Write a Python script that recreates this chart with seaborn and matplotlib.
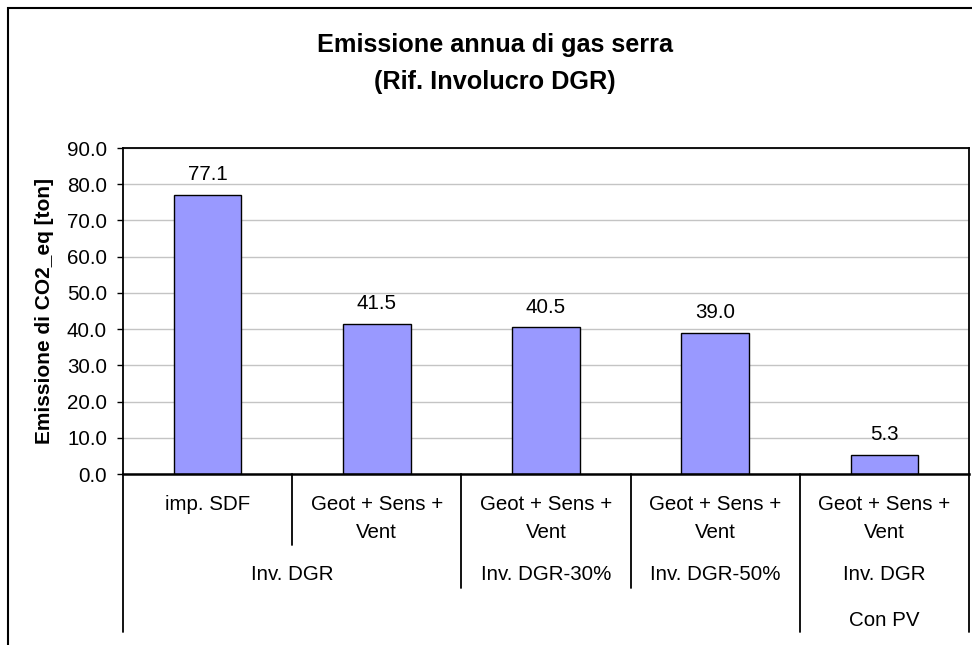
import matplotlib
matplotlib.use("Agg")
import matplotlib.pyplot as plt
from matplotlib.patches import Rectangle
from matplotlib.lines import Line2D
from matplotlib.transforms import blended_transform_factory
import seaborn as sns
import pandas as pd

# ---------------- data ----------------
systems = ["imp. SDF", "Geot + Sens +\nVent", "Geot + Sens +\nVent",
           "Geot + Sens +\nVent", "Geot + Sens +\nVent"]
envelopes = ["Inv. DGR", "Inv. DGR", "Inv. DGR-30%", "Inv. DGR-50%", "Inv. DGR"]
extras = ["", "", "", "", "Con PV"]
emissions = [77.1, 41.5, 40.5, 39.0, 5.3]
y_ticks = [0, 10, 20, 30, 40, 50, 60, 70, 80, 90]
title_lines = ["Emissione annua di gas serra", "(Rif. Involucro DGR)"]
y_label = "Emissione di CO2_eq [ton]"

keys = [f"c{i}" for i in range(len(emissions))]
df = pd.DataFrame({"key": keys, "value": emissions})

# ---------------- style ----------------
sns.set_style("white")
plt.rcParams["font.family"] = ["Liberation Sans", "DejaVu Sans"]
plt.rcParams["text.color"] = "black"
plt.rcParams["axes.labelcolor"] = "black"
plt.rcParams["xtick.color"] = "black"
plt.rcParams["ytick.color"] = "black"

W, H = 972, 645
fig = plt.figure(figsize=(W / 100, H / 100), dpi=100)
fig.patch.set_facecolor("white")

# plot area in pixels
L, R, T, B = 123, 969, 148, 474
ax = fig.add_axes([L / W, 1 - B / H, (R - L) / W, (B - T) / H])
ax_h = B - T

sns.barplot(data=df, x="key", y="value", order=keys, color="#9999FF",
            saturation=1, edgecolor="black", linewidth=1.0, width=0.4,
            errorbar=None, ax=ax)

ax.set_xlim(-0.5, len(keys) - 0.5)
ax.set_ylim(y_ticks[0], y_ticks[-1])
ax.set_yticks(y_ticks)
ax.set_yticklabels([f"{v:.1f}" for v in y_ticks])
ax.set_xticks([])
ax.set_xlabel("")
ax.set_ylabel("")
ax.yaxis.grid(True, color="#C4C4C4", linewidth=1.0)
ax.set_axisbelow(True)
for s in ax.spines.values():
    s.set_visible(True)
    s.set_color("black")
    s.set_linewidth(1.3)
ax.spines["bottom"].set_linewidth(1.8)
ax.tick_params(axis="y", direction="out", length=4.5, width=1.0, pad=7,
               labelsize=14.8, colors="black", left=True)

# value labels
for i, v in enumerate(emissions):
    ax.annotate(f"{v:.1f}", xy=(i, v), xytext=(0, 14.5),
                textcoords="offset points", ha="center", va="center",
                fontsize=14.8, color="black")

# hierarchical category axis
trans = blended_transform_factory(ax.transData, ax.transAxes)
def ay(px):
    return (B - px) / ax_h

d_full, d_env, d_sys = 632, 588, 545
n = len(keys)
for b in range(n + 1):
    if b == 0 or b == n or extras[b - 1] != extras[b]:
        end = d_full
    elif envelopes[b - 1] != envelopes[b]:
        end = d_env
    else:
        end = d_sys
    ax.add_line(Line2D([b - 0.5, b - 0.5], [0, ay(end)], transform=trans,
                       color="black", linewidth=1.3, clip_on=False))

for i, s in enumerate(systems):
    for j, line in enumerate(s.split("\n")):
        ax.text(i, ay(505 + 27 * j), line, transform=trans, ha="center",
                va="center", fontsize=14.8, color="black", clip_on=False)

# envelope groups (contiguous runs)
i = 0
while i < n:
    j = i
    while j + 1 < n and envelopes[j + 1] == envelopes[i] and extras[j + 1] == extras[i]:
        j += 1
    ax.text((i + j) / 2, ay(575), envelopes[i], transform=trans, ha="center",
            va="center", fontsize=14.8, color="black", clip_on=False)
    i = j + 1

for i, e in enumerate(extras):
    if e:
        ax.text(i, ay(620), e, transform=trans, ha="center", va="center",
                fontsize=14.8, color="black", clip_on=False)

# titles
for k, t in enumerate(title_lines):
    fig.text(495 / W, 1 - (45 + 37 * k) / H, t, ha="center", va="center",
             fontsize=18.2, fontweight="bold", color="black")

fig.text(45 / W, 1 - 311 / H, y_label, rotation=90, ha="center", va="center",
         fontsize=15, fontweight="bold", color="black")

# outer chart border
fig.patches.append(Rectangle((8 / W, 1 - 660 / H), (990 - 8) / W, (660 - 8) / H,
                             transform=fig.transFigure, fill=False,
                             edgecolor="black", linewidth=1.5))

fig.savefig("out.png", dpi=100)
